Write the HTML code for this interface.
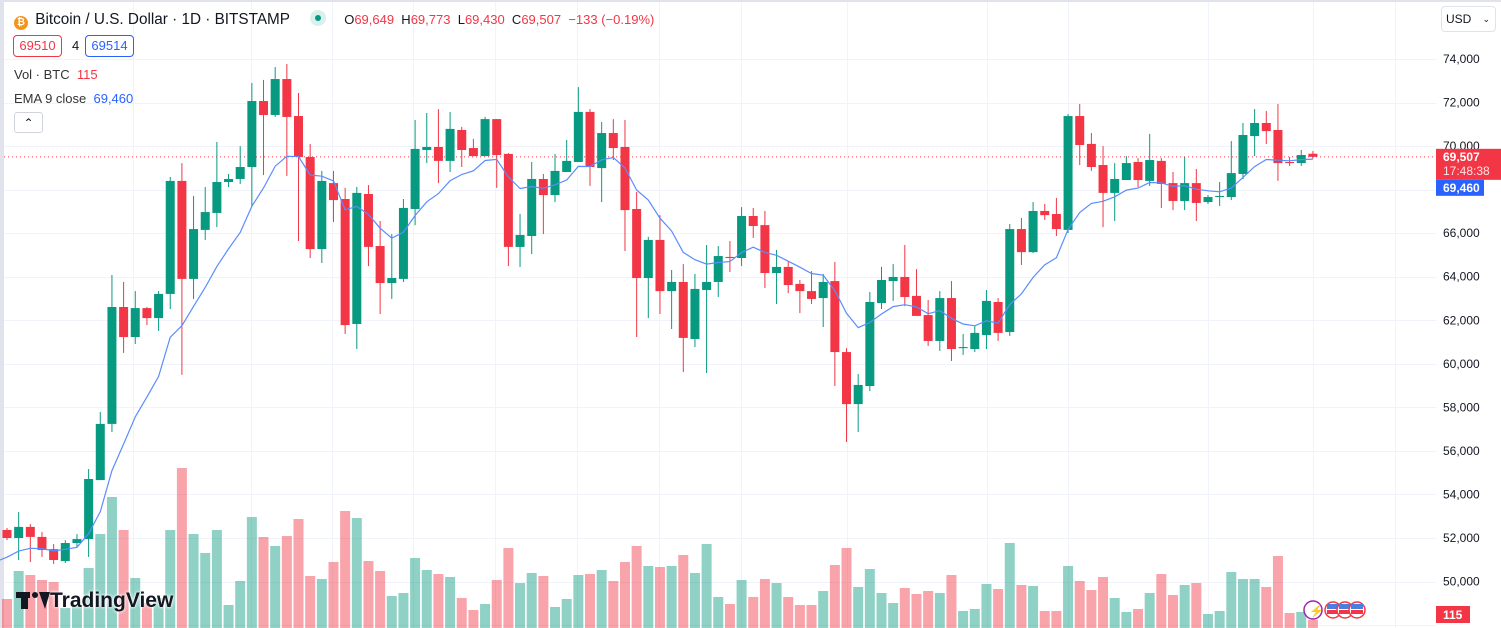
<!DOCTYPE html>
<html><head><meta charset="utf-8"><style>
html,body{margin:0;padding:0;background:#fff;}
body{width:1501px;height:628px;overflow:hidden;position:relative;font-family:"Liberation Sans",sans-serif;color:#131722;}
svg{position:absolute;left:0;top:0;}
.abs{position:absolute;white-space:nowrap;}
</style></head><body>
<svg id="chart" width="1501" height="628"></svg>

<div class="abs" style="left:14px;top:10px;height:18px;font-size:15.3px;line-height:18px;">
  <span style="display:inline-block;width:14px;height:14px;border-radius:50%;background:#f7931a;color:#fff;font-size:10px;line-height:14px;text-align:center;font-weight:bold;vertical-align:-1px;">₿</span>
  <span style="margin-left:3px;">Bitcoin / U.S. Dollar · 1D · BITSTAMP</span>
  <span style="display:inline-block;width:16px;height:16px;border-radius:50%;background:#daf0ec;margin-left:16px;vertical-align:-2px;position:relative;"><span style="position:absolute;left:5px;top:5px;width:6px;height:6px;border-radius:50%;background:#089981;"></span></span>
  <span style="margin-left:14px;font-size:13px;">O<span style="color:#f23645">69,649</span>&nbsp; H<span style="color:#f23645">69,773</span>&nbsp; L<span style="color:#f23645">69,430</span>&nbsp; C<span style="color:#f23645">69,507</span>&nbsp; <span style="color:#f23645">−133 (−0.19%)</span></span>
</div>
<div class="abs" style="left:13px;top:35px;width:47px;height:20px;border:1px solid #f23645;border-radius:4px;color:#f23645;font-size:13px;line-height:20px;text-align:center;">69510</div>
<div class="abs" style="left:72px;top:38px;font-size:13px;">4</div>
<div class="abs" style="left:85px;top:35px;width:47px;height:20px;border:1px solid #2962ff;border-radius:4px;color:#2962ff;font-size:13px;line-height:20px;text-align:center;">69514</div>
<div class="abs" style="left:14px;top:67px;font-size:13px;color:#333">Vol · BTC&nbsp;&nbsp;<span style="color:#f23645">115</span></div>
<div class="abs" style="left:14px;top:91px;font-size:13px;color:#333">EMA 9 close&nbsp;&nbsp;<span style="color:#2962ff">69,460</span></div>
<div class="abs" style="left:14px;top:112px;width:27px;height:19px;border:1px solid #d1d4dc;border-radius:3px;text-align:center;font-size:12px;line-height:21px;">⌃</div>
<div class="abs" style="left:1441px;top:6px;width:53px;height:24px;border:1px solid #e0e3eb;border-radius:4px;font-size:12px;line-height:24px;"><span style="margin-left:4px">USD</span><span style="position:absolute;right:5px;font-size:9px;">⌄</span></div>
<div class="abs" style="left:16px;top:588px;height:26px;font-size:21px;font-weight:bold;line-height:26px;color:#131722;text-shadow:0 0 3px #fff,0 0 3px #fff;">
  <span style="display:inline-block;width:34px;height:18px;position:relative;vertical-align:-2px;"><span style="position:absolute;left:0;top:1px;width:14px;height:6px;background:#131722"></span><span style="position:absolute;left:5px;top:1px;width:7px;height:17px;background:#131722"></span><span style="position:absolute;left:16px;top:1px;width:6px;height:6px;border-radius:50%;background:#131722"></span><span style="position:absolute;left:23px;top:1px;width:0;height:0;border-left:6px solid transparent;border-right:5px solid transparent;border-top:17px solid #131722"></span></span>TradingView</div>

<script>
// ---- data ----
const opens=[52370,52000,52510,52050,51490,50940,51770,51950,54660,57240,
62610,61230,62560,62100,63210,68400,63900,66150,66930,68350,
68490,69040,72070,71430,73080,71380,69500,65270,68300,67570,
61830,67800,65410,63710,63900,67110,69820,69960,69320,70740,
69910,69540,71240,69640,65370,65870,68490,67750,68810,69270,
71570,68990,70600,69960,67110,63940,65690,63340,63760,61140,
63390,63760,64910,64860,66790,66370,64170,64450,63670,63340,
63020,63800,60540,58150,58980,62790,63800,63990,63120,62240,
61050,63020,60720,60680,61320,62840,61460,66190,65130,67020,
66880,66150,71380,70100,69130,67850,68440,69270,68400,69320,
68300,67480,68300,67430,67660,67660,68720,70460,71060,70740,
69270,69220,69649];
const highs=[52460,53190,52640,52280,51720,51900,52180,55170,57790,64080,
63760,63340,62610,63340,68580,69220,67710,68120,70190,68720,
70000,72900,73040,73630,73770,72440,70100,68860,68860,68080,
68120,68210,66560,65960,67570,71200,71520,71700,71570,70880,
70330,71340,71240,69680,66880,69270,68720,69640,70280,72710,
71700,71110,71240,71200,67890,65830,66830,64310,64580,64130,
65460,65410,65640,67200,67160,67020,65230,64720,63850,64260,
64130,64680,60720,59530,63300,64450,64580,65460,64350,62930,
63340,63800,61370,61740,63390,63020,66420,66700,67430,67340,
67620,71470,71930,70600,70000,69220,69540,69450,70560,69450,
68810,69500,68950,67750,68350,70230,71060,71700,71610,71930,
69500,69820,69773];
const lows=[51910,50990,50900,51130,50810,50850,51590,51130,54660,56870,
60500,60910,61780,61510,62520,59490,62980,65690,66280,68120,
68260,67200,68670,71340,68630,65640,64860,64630,66510,61370,
60680,64490,62290,62980,63760,66370,69220,68300,68810,69040,
69540,69540,68080,64490,64450,65040,65960,67430,68810,69270,
68170,67430,69360,65180,61230,62100,62290,61600,59620,60770,
59580,63070,64220,64490,65780,63480,62750,63250,62330,62750,
61690,58980,56410,56870,58750,62520,62890,62650,62200,60820,
60590,60130,60410,60540,60680,61050,61280,64540,65090,66610,
65870,66010,69130,68860,66280,66560,68440,68120,68170,67160,
67060,67060,66560,67340,67250,67520,68490,69540,70100,68400,
69090,69090,69430];
const closes=[52000,52510,52050,51450,50990,51770,51950,54710,57240,62610,
61230,62560,62100,63210,68400,63900,66190,66970,68350,68490,
69040,72070,71430,73080,71340,69500,65270,68400,67520,61780,
67850,65370,63710,63940,67160,69870,69960,69320,70790,69820,
69540,71240,69590,65370,65920,68490,67750,68860,69320,71570,
69040,70600,69910,67060,63940,65690,63340,63760,61190,63440,
63760,64950,64860,66790,66330,64170,64450,63620,63340,62980,
63760,60540,58150,59030,62840,63850,63990,63070,62200,61050,
63020,60680,60770,61420,62890,61420,66190,65130,67020,66830,
66190,71380,70050,69040,67850,68490,69220,68440,69360,68260,
67480,68300,67390,67660,67710,68760,70510,71060,70690,69220,
69220,69590,69507];
const volumes=[406,798,742,672,644,280,308,840,1316,1834,
1372,700,350,420,1372,2240,1316,1050,1372,322,
658,1554,1274,1148,1288,1526,728,686,924,1638,
1540,938,798,448,490,980,812,756,714,420,
252,336,672,1120,630,770,728,294,406,742,
756,812,658,924,1148,868,854,868,1022,770,
1176,434,336,672,434,686,630,434,322,322,
518,882,1120,574,826,490,350,560,476,518,
490,742,238,266,616,546,1190,602,588,238,
238,868,658,532,714,420,224,266,490,756,
462,602,630,196,238,784,686,686,574,1008,
210,224,115];
const priceTicks=[74000,72000,70000,68000,66000,64000,62000,60000,58000,56000,54000,52000,50000];
const emaSeed=50900;
const lastPrice=69507;
const emaLast=69460;
const vGridX=[133,251,332,413,495,577,659,741,847,987,1068,1208,1313,1395];

// ---- scales ----
const X0=7, STEP=11.66;
function xOf(i){return X0+i*STEP;}
function yOf(p){return 59+(74000-p)*0.021773;}
function yVol(v){return 628-v/14;}
const GREEN='#089981', RED='#f23645';
const NS='http://www.w3.org/2000/svg';
const svg=document.getElementById('chart');
function mk(tag,attrs,parent){const e=document.createElementNS(NS,tag);for(const k in attrs)e.setAttribute(k,attrs[k]);(parent||svg).appendChild(e);return e;}

// frame
const frame=mk('g',{});


mk('rect',{x:0,y:0,width:1501,height:2,fill:'#e0e3eb'},frame);
mk('rect',{x:0,y:0,width:4,height:628,fill:'#e0e3eb'},frame);

// grid
const grid=mk('g',{stroke:'#f0f3fa','stroke-width':1});


for(const t of priceTicks.concat([48000])){const y=Math.round(yOf(t))+0.5;mk('line',{x1:4,x2:1436,y1:y,y2:y},grid);}
for(const gx of vGridX){mk('line',{x1:gx+0.5,x2:gx+0.5,y1:2,y2:628},grid);}

// volume bars
const vg=mk('g',{});


volumes.forEach((v,i)=>{
  const up=closes[i]>=opens[i];
  const y=yVol(v);
  const r=mk('rect',{x:xOf(i)-5,y:y,width:10,height:628-y,fill:up?'rgba(8,153,129,0.45)':'rgba(242,54,69,0.45)'},vg);
  
  
});

// current price line
const pl=mk('line',{x1:4,x2:1436,y1:yOf(lastPrice),y2:yOf(lastPrice),stroke:RED,'stroke-width':1,'stroke-dasharray':'1 3'});



// candles
const cg=mk('g',{});


opens.forEach((o,i)=>{
  const c=closes[i],up=c>=o,col=up?GREEN:RED,x=xOf(i);
  const g=mk('g',{},cg);
  
  
  mk('line',{x1:x,x2:x,y1:yOf(highs[i]),y2:yOf(lows[i]),stroke:col,'stroke-width':1},g);
  const top=yOf(Math.max(o,c)),bot=yOf(Math.min(o,c));
  mk('rect',{x:x-4.5,y:top,width:9,height:Math.max(1,bot-top),fill:col},g);
});

// EMA line
let e=emaSeed;const k=2/10;const pts=[];
closes.forEach((c,i)=>{e=c*k+e*(1-k);pts.push(xOf(i).toFixed(1)+','+yOf(e).toFixed(1));});
const emaLine=mk('polyline',{points:'-5,'+yOf(emaSeed).toFixed(1)+' '+pts.join(' '),fill:'none',stroke:'#5b8cff','stroke-width':1.2});



// price axis labels
const ax=mk('g',{'font-family':'Liberation Sans, sans-serif','font-size':12,fill:'#131722'});


for(const t of priceTicks){
  const tx=mk('text',{x:1443,y:yOf(t)+4},ax);
  
  
  tx.textContent=t.toLocaleString('en-US');
}
// last price badge
const yl=yOf(lastPrice);
const badge=mk('g',{});


mk('rect',{x:1436,y:yl-8,width:65,height:31,fill:RED},badge);
const t1=mk('text',{x:1443,y:yl+4,'font-size':12,'font-weight':'bold',fill:'#fff','font-family':'Liberation Sans, sans-serif'},badge);t1.textContent=lastPrice.toLocaleString('en-US');
const t2=mk('text',{x:1443,y:yl+18,'font-size':12,fill:'#fde3e5','font-family':'Liberation Sans, sans-serif'},badge);t2.textContent='17:48:38';
const eb=mk('g',{});


mk('rect',{x:1436,y:yl+23,width:48,height:16,fill:'#2962ff'},eb);
const t3=mk('text',{x:1443,y:yl+35,'font-size':12,'font-weight':'bold',fill:'#fff','font-family':'Liberation Sans, sans-serif'},eb);t3.textContent=emaLast.toLocaleString('en-US');
// volume badge
const vb=mk('g',{});


mk('rect',{x:1436,y:606,width:34,height:17,fill:RED},vb);
const t4=mk('text',{x:1443,y:619,'font-size':12,'font-weight':'bold',fill:'#fff','font-family':'Liberation Sans, sans-serif'},vb);t4.textContent=volumes[volumes.length-1];

// event icons
const ev=mk('g',{});


mk('circle',{cx:1313,cy:610,r:9,fill:'#fff',stroke:'#9c27b0','stroke-width':1.5},ev);
const lt=mk('text',{x:1309,y:615,'font-size':12,fill:'#9c27b0'},ev);lt.textContent='⚡';
[1333,1345,1357].forEach(cx=>{mk('circle',{cx:cx,cy:610,r:8,fill:'#fff',stroke:RED,'stroke-width':1.5},ev);mk('rect',{x:cx-6,y:604,width:12,height:5,fill:'#4a7fe0'},ev);mk('rect',{x:cx-6,y:610,width:12,height:4,fill:RED},ev);});
</script>
</body></html>
